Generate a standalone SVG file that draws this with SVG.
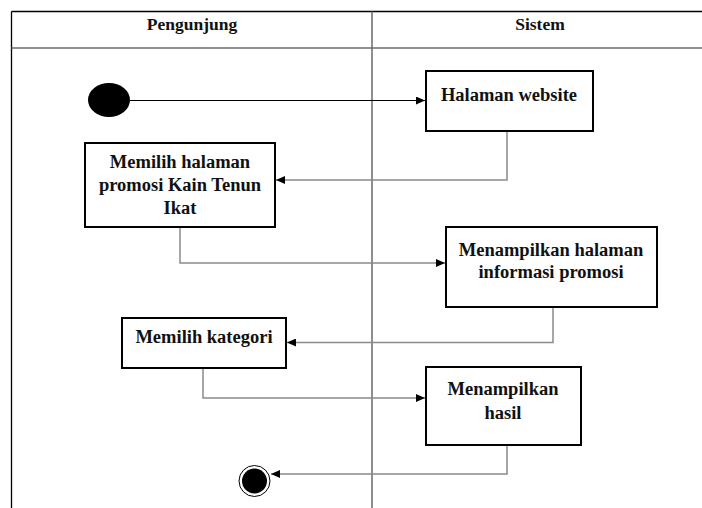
<svg xmlns="http://www.w3.org/2000/svg" width="702" height="508" viewBox="0 0 702 508">
  <style>
    .lane { stroke: #000; stroke-width: 1.3; fill: none; }
    .lane-sep { stroke: #6a6a6a; stroke-width: 1.5; fill: none; }
    .head { font-family: "Liberation Serif", "DejaVu Serif", serif; font-weight: bold; font-size: 17.5px; fill: #111; text-anchor: middle; }
    .box rect { fill: #fff; stroke: #000; stroke-width: 2; }
    .box text { font-family: "Liberation Serif", "DejaVu Serif", serif; font-weight: bold; font-size: 18.5px; fill: #111; text-anchor: middle; }
    .flow { stroke: #8a8a8a; stroke-width: 1.5; fill: none; marker-end: url(#arrow); }
    .flow-start { stroke: #000; stroke-width: 1.2; fill: none; marker-end: url(#arrow); }
  </style>
  <defs>
    <marker id="arrow" markerWidth="10" markerHeight="8" refX="9" refY="4" orient="auto" markerUnits="userSpaceOnUse">
      <path d="M0,0 L9,4 L0,8 Z" fill="#000"/>
    </marker>
  </defs>

  <rect width="702" height="508" fill="#fff"/>

  <!-- swimlane frame -->
  <g id="swimlanes">
    <line class="lane" x1="11.5" y1="11.5" x2="702" y2="11.5"/>
    <line class="lane" x1="11.5" y1="11.5" x2="11.5" y2="508"/>
    <line class="lane-sep" x1="11.5" y1="48" x2="702" y2="48"/>
    <line class="lane-sep" x1="372" y1="11.5" x2="372" y2="508"/>
    <text class="head" x="192" y="30">Pengunjung</text>
    <text class="head" x="540" y="30">Sistem</text>
  </g>

  <!-- connectors -->
  <g id="connectors">
    <path class="flow-start" d="M130,100.5 H425"/>
    <path class="flow" d="M507,131 V180 H276"/>
    <path class="flow" d="M180,227 V263 H445"/>
    <path class="flow" d="M553,307 V342.5 H287"/>
    <path class="flow" d="M203,368 V398 H425"/>
    <path class="flow" d="M507,445 V474 H271"/>
  </g>

  <g id="start">
    <ellipse cx="109" cy="100" rx="21" ry="17" fill="#000"/>
  </g>

  <g id="halaman-website" class="box">
    <rect x="426" y="71" width="167" height="60"/>
    <text x="509" y="101">Halaman website</text>
  </g>

  <g id="memilih-halaman" class="box">
    <rect x="85" y="143" width="190" height="84"/>
    <text x="180" y="168">Memilih halaman</text>
    <text x="180" y="191">promosi Kain Tenun</text>
    <text x="180" y="214">Ikat</text>
  </g>

  <g id="menampilkan-halaman" class="box">
    <rect x="446" y="227" width="211" height="80"/>
    <text x="551" y="256">Menampilkan halaman</text>
    <text x="551" y="278">informasi promosi</text>
  </g>

  <g id="memilih-kategori" class="box">
    <rect x="122" y="318" width="164" height="50"/>
    <text x="204" y="343">Memilih kategori</text>
  </g>

  <g id="menampilkan-hasil" class="box">
    <rect x="426" y="367" width="155" height="78"/>
    <text x="503" y="395">Menampilkan</text>
    <text x="503" y="419">hasil</text>
  </g>

  <g id="end">
    <circle cx="254.5" cy="481" r="15.5" fill="#fff" stroke="#000" stroke-width="1"/>
    <circle cx="254.5" cy="481" r="12.5" fill="#000"/>
  </g>
</svg>
